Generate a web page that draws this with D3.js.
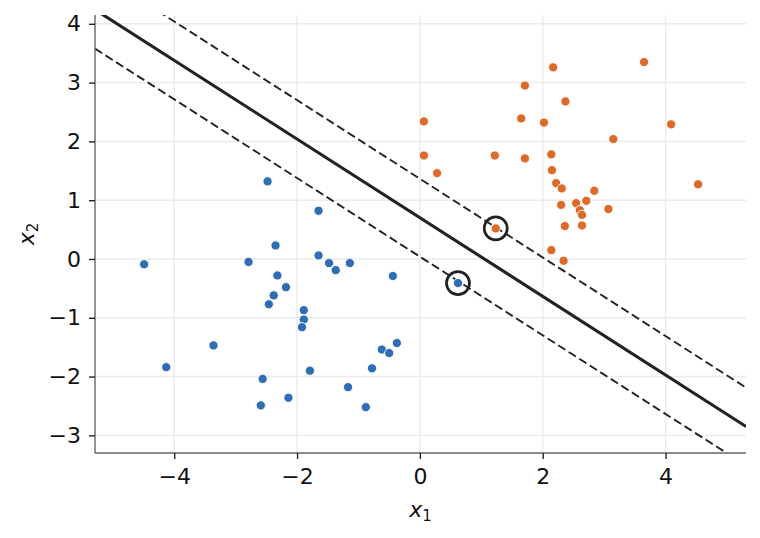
<!DOCTYPE html>
<html>
<head>
<meta charset="utf-8">
<script src="https://cdn.jsdelivr.net/npm/d3@7"></script>
<style>
  body { margin: 0; background: #fff; }
  svg { font-family: "DejaVu Sans", sans-serif; }
</style>
</head>
<body>
<svg id="chart" width="760" height="538"></svg>
<script>
// class 0 (blue) points
let blueX = [-2.48, -1.65, -2.35, -4.49, -2.79, -1.65, -1.48, -1.37, -1.14, -0.44,
             -2.32, -2.18, -2.38, -2.46, -1.89, -1.89, -1.92, -3.36, -4.13, -0.375,
             -0.62, -0.50, -0.78, -1.79, -2.56, -1.17, -2.14, -2.59, -0.88, 0.62]
let blueY = [1.32, 0.82, 0.23, -0.09, -0.05, 0.06, -0.07, -0.19, -0.07, -0.29,
             -0.28, -0.48, -0.62, -0.77, -0.87, -1.03, -1.16, -1.47, -1.84, -1.43,
             -1.54, -1.60, -1.86, -1.90, -2.04, -2.18, -2.36, -2.49, -2.52, -0.41]

// class 1 (orange) points
let orangeX = [2.17, 3.65, 1.71, 2.37, 0.065, 1.65, 2.02, 4.09, 3.15, 0.065,
               1.22, 1.71, 2.14, 0.28, 2.15, 2.22, 2.31, 4.53, 2.84, 2.30,
               2.545, 2.71, 2.605, 2.64, 3.07, 2.36, 2.64, 1.235, 2.14, 2.34]
let orangeY = [3.26, 3.35, 2.95, 2.68, 2.34, 2.39, 2.32, 2.29, 2.04, 1.76,
               1.76, 1.71, 1.78, 1.46, 1.51, 1.29, 1.20, 1.27, 1.16, 0.92,
               0.95, 0.99, 0.83, 0.75, 0.85, 0.56, 0.57, 0.52, 0.15, -0.03]

// support vectors
let svX = [1.235, 0.62]
let svY = [0.52, -0.41]

// separating hyperplane w.x + b = 0, margins at +-1
let w = [1.01, 1.51]
let b = -1.06
let levels = [-1, 0, 1]

let xTicks = [-4, -2, 0, 2, 4]
let yTicks = [-3, -2, -1, 0, 1, 2, 3, 4]
let xDomain = [-5.29, 5.31]
let yDomain = [-3.30, 4.15]

let margin = {left: 95, right: 14, top: 15, bottom: 85}
let W = 760, H = 538

let svg = d3.select("#chart")

let x = d3.scaleLinear().domain(xDomain).range([margin.left, W - margin.right])
let y = d3.scaleLinear().domain(yDomain).range([H - margin.bottom, margin.top])

svg.append("defs").append("clipPath").attr("id", "clip")
    .append("rect")
    .attr("x", x.range()[0]).attr("y", y.range()[1])
    .attr("width", x.range()[1] - x.range()[0])
    .attr("height", y.range()[0] - y.range()[1])

// grid
let grid = svg.append("g").attr("class", "grid")
grid.selectAll("line.gx").data(xTicks).enter().append("line")
    .attr("x1", d => x(d)).attr("x2", d => x(d))
    .attr("y1", y.range()[0]).attr("y2", y.range()[1])
    .attr("stroke", "#ebebeb").attr("stroke-width", 1.4)
grid.selectAll("line.gy").data(yTicks).enter().append("line")
    .attr("y1", d => y(d)).attr("y2", d => y(d))
    .attr("x1", x.range()[0]).attr("x2", x.range()[1])
    .attr("stroke", "#ebebeb").attr("stroke-width", 1.4)

// decision boundary and margins
let lines = svg.append("g").attr("clip-path", "url(#clip)")
let x2At = (x1, c) => (c - b - w[0] * x1) / w[1]
lines.selectAll("line").data(levels).enter().append("line")
    .attr("x1", x(xDomain[0])).attr("y1", c => y(x2At(xDomain[0], c)))
    .attr("x2", x(xDomain[1])).attr("y2", c => y(x2At(xDomain[1], c)))
    .attr("stroke", "#222")
    .attr("stroke-width", c => c === 0 ? 3.1 : 1.9)
    .attr("stroke-dasharray", c => c === 0 ? null : "8.5,4")

// points
let pts = svg.append("g")
pts.selectAll("circle.blue").data(d3.zip(blueX, blueY)).enter().append("circle")
    .attr("cx", d => x(d[0])).attr("cy", d => y(d[1])).attr("r", 4.6)
    .attr("fill", "#2f6db4").attr("stroke", "#fff").attr("stroke-width", 0.9)
pts.selectAll("circle.orange").data(d3.zip(orangeX, orangeY)).enter().append("circle")
    .attr("cx", d => x(d[0])).attr("cy", d => y(d[1])).attr("r", 4.6)
    .attr("fill", "#dc6a2b").attr("stroke", "#fff").attr("stroke-width", 0.9)

// support vector rings
svg.append("g").selectAll("circle").data(d3.zip(svX, svY)).enter().append("circle")
    .attr("cx", d => x(d[0])).attr("cy", d => y(d[1])).attr("r", 11.5)
    .attr("fill", "none").attr("stroke", "#222").attr("stroke-width", 2.7)

// axes
let xAxis = svg.append("g")
    .attr("transform", "translate(0," + y.range()[0] + ")")
    .call(d3.axisBottom(x).tickValues(xTicks).tickSize(6).tickPadding(9)
        .tickFormat(d => d3.format("d")(d).replace("-", "\u2212")))
let yAxis = svg.append("g")
    .attr("transform", "translate(" + x.range()[0] + ",0)")
    .call(d3.axisLeft(y).tickValues(yTicks).tickSize(6).tickPadding(8)
        .tickFormat(d => d3.format("d")(d).replace("-", "\u2212")))

for (let ax of [xAxis, yAxis]) {
    ax.select(".domain").attr("stroke", "#666").attr("stroke-width", 1.4)
    ax.selectAll(".tick line").attr("stroke", "#222").attr("stroke-width", 1.4)
    ax.selectAll(".tick text").attr("fill", "#111")
        .style("font-size", "22px").style("font-family", "DejaVu Sans")
}
xAxis.select(".domain").attr("d", "M" + x.range()[0] + ",0H" + x.range()[1])
yAxis.select(".domain").attr("d", "M0," + y.range()[0] + "V" + y.range()[1])

// axis labels
let xl = svg.append("text")
    .attr("x", (x.range()[0] + x.range()[1]) / 2).attr("y", 517)
    .attr("text-anchor", "middle").attr("fill", "#111")
    .style("font-size", "22px")
xl.append("tspan").style("font-style", "italic").text("x")
xl.append("tspan").attr("dy", 4).style("font-size", "15px").text("1")

let yl = svg.append("text")
    .attr("transform", "translate(34," + ((y.range()[0] + y.range()[1]) / 2) + ") rotate(-90)")
    .attr("text-anchor", "middle").attr("fill", "#111")
    .style("font-size", "22px")
yl.append("tspan").style("font-style", "italic").text("x")
yl.append("tspan").attr("dy", 4).style("font-size", "15px").text("2")
</script>
</body>
</html>
